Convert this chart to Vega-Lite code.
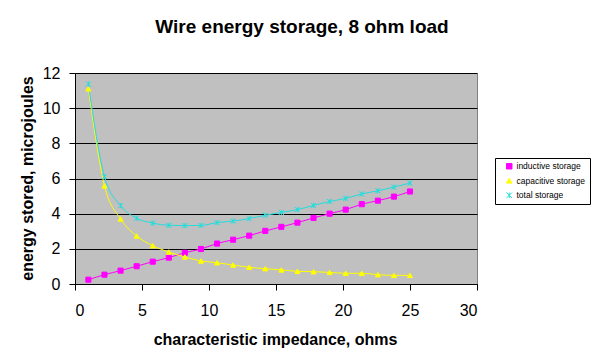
{
  "$schema": "https://vega.github.io/schema/vega-lite/v6.json",
  "width": 402,
  "height": 211,
  "autosize": {"type": "none"},
  "padding": {"left": 75, "top": 73, "right": 123, "bottom": 79},
  "background": "white",
  "title": {
    "text": "Wire energy storage, 8 ohm load",
    "frame": "group",
    "anchor": "middle",
    "align": "center",
    "dx": 26,
    "offset": 28,
    "font": "Liberation Sans",
    "fontSize": 19,
    "fontWeight": "bold",
    "color": "black"
  },
  "config": {
    "view": {"fill": "#C0C0C0", "stroke": "#808080", "strokeWidth": 1},
    "axis": {
      "labelFont": "Liberation Sans",
      "labelFontSize": 16,
      "labelColor": "black",
      "titleFont": "Liberation Sans",
      "titleFontSize": 16,
      "titleFontWeight": "bold",
      "titleColor": "black",
      "domainColor": "black",
      "tickColor": "black",
      "tickSize": 6,
      "domainWidth": 1,
      "tickWidth": 1
    },
    "legend": {
      "orient": "none",
      "legendX": 420,
      "legendY": 85,
      "strokeColor": "black",
      "fillColor": "white",
      "padding": 4,
      "labelFont": "Liberation Sans",
      "labelFontSize": 8.5,
      "labelColor": "black",
      "labelOffset": 3,
      "symbolOffset": 6,
      "rowPadding": 4.5,
      "symbolSize": 30,
      "symbolOpacity": 1,
      "symbolStrokeWidth": 1
    }
  },
  "data": {
    "values": [
      {"z": 1.0, "series": "inductive storage", "e": 0.245},
      {"z": 2.2, "series": "inductive storage", "e": 0.53},
      {"z": 3.4, "series": "inductive storage", "e": 0.76},
      {"z": 4.6, "series": "inductive storage", "e": 1.01},
      {"z": 5.8, "series": "inductive storage", "e": 1.27},
      {"z": 7.0, "series": "inductive storage", "e": 1.50},
      {"z": 8.2, "series": "inductive storage", "e": 1.78},
      {"z": 9.4, "series": "inductive storage", "e": 1.99},
      {"z": 10.6, "series": "inductive storage", "e": 2.30},
      {"z": 11.8, "series": "inductive storage", "e": 2.52},
      {"z": 13.0, "series": "inductive storage", "e": 2.75},
      {"z": 14.2, "series": "inductive storage", "e": 3.02},
      {"z": 15.4, "series": "inductive storage", "e": 3.25},
      {"z": 16.6, "series": "inductive storage", "e": 3.49},
      {"z": 17.8, "series": "inductive storage", "e": 3.76},
      {"z": 19.0, "series": "inductive storage", "e": 4.00},
      {"z": 20.2, "series": "inductive storage", "e": 4.23},
      {"z": 21.4, "series": "inductive storage", "e": 4.54},
      {"z": 22.6, "series": "inductive storage", "e": 4.74},
      {"z": 23.8, "series": "inductive storage", "e": 4.97},
      {"z": 25.0, "series": "inductive storage", "e": 5.26},
      {"z": 1.0, "series": "capacitive storage", "e": 11.1},
      {"z": 2.2, "series": "capacitive storage", "e": 5.58},
      {"z": 3.4, "series": "capacitive storage", "e": 3.70},
      {"z": 4.6, "series": "capacitive storage", "e": 2.73},
      {"z": 5.8, "series": "capacitive storage", "e": 2.18},
      {"z": 7.0, "series": "capacitive storage", "e": 1.82},
      {"z": 8.2, "series": "capacitive storage", "e": 1.54},
      {"z": 9.4, "series": "capacitive storage", "e": 1.31},
      {"z": 10.6, "series": "capacitive storage", "e": 1.21},
      {"z": 11.8, "series": "capacitive storage", "e": 1.08},
      {"z": 13.0, "series": "capacitive storage", "e": 0.95},
      {"z": 14.2, "series": "capacitive storage", "e": 0.87},
      {"z": 15.4, "series": "capacitive storage", "e": 0.80},
      {"z": 16.6, "series": "capacitive storage", "e": 0.72},
      {"z": 17.8, "series": "capacitive storage", "e": 0.70},
      {"z": 19.0, "series": "capacitive storage", "e": 0.66},
      {"z": 20.2, "series": "capacitive storage", "e": 0.61},
      {"z": 21.4, "series": "capacitive storage", "e": 0.61},
      {"z": 22.6, "series": "capacitive storage", "e": 0.53},
      {"z": 23.8, "series": "capacitive storage", "e": 0.49},
      {"z": 25.0, "series": "capacitive storage", "e": 0.49},
      {"z": 1.0, "series": "total storage", "e": 11.37},
      {"z": 2.2, "series": "total storage", "e": 6.11},
      {"z": 3.4, "series": "total storage", "e": 4.46},
      {"z": 4.6, "series": "total storage", "e": 3.74},
      {"z": 5.8, "series": "total storage", "e": 3.46},
      {"z": 7.0, "series": "total storage", "e": 3.34},
      {"z": 8.2, "series": "total storage", "e": 3.32},
      {"z": 9.4, "series": "total storage", "e": 3.33},
      {"z": 10.6, "series": "total storage", "e": 3.49},
      {"z": 11.8, "series": "total storage", "e": 3.58},
      {"z": 13.0, "series": "total storage", "e": 3.72},
      {"z": 14.2, "series": "total storage", "e": 3.91},
      {"z": 15.4, "series": "total storage", "e": 4.07},
      {"z": 16.6, "series": "total storage", "e": 4.23},
      {"z": 17.8, "series": "total storage", "e": 4.47},
      {"z": 19.0, "series": "total storage", "e": 4.69},
      {"z": 20.2, "series": "total storage", "e": 4.87},
      {"z": 21.4, "series": "total storage", "e": 5.12},
      {"z": 22.6, "series": "total storage", "e": 5.30},
      {"z": 23.8, "series": "total storage", "e": 5.51},
      {"z": 25.0, "series": "total storage", "e": 5.74}
    ]
  },
  "encoding": {
    "x": {
      "field": "z",
      "type": "quantitative",
      "scale": {"domain": [0, 30], "nice": false},
      "axis": {
        "title": "characteristic impedance, ohms",
        "values": [0, 5, 10, 15, 20, 25, 30],
        "grid": false,
        "labelPadding": 12,
        "titleBaseline": "alphabetic",
        "titleY": 60,
        "titleX": 200
      }
    },
    "y": {
      "field": "e",
      "type": "quantitative",
      "scale": {"domain": [0, 12], "nice": false},
      "axis": {
        "title": "energy stored, microjoules",
        "values": [0, 2, 4, 6, 8, 10, 12],
        "grid": true,
        "gridColor": "black",
        "gridWidth": 1,
        "gridOpacity": 1,
        "labelPadding": 9,
        "titleBaseline": "alphabetic",
        "titleX": -43,
        "titleY": 105
      }
    },
    "stroke": {
      "field": "series",
      "type": "nominal",
      "title": null,
      "scale": {
        "domain": ["inductive storage", "capacitive storage", "total storage"],
        "range": ["#FF00FF", "#FFFF00", "#22DDDD"]
      }
    }
  },
  "layer": [
    {
      "mark": {"type": "line", "strokeWidth": 1, "interpolate": "monotone"}
    },
    {
      "mark": {"type": "point", "filled": true, "size": 26, "opacity": 1, "strokeWidth": 1},
      "encoding": {
        "fill": {
          "field": "series",
          "type": "nominal",
          "title": null,
          "scale": {
            "domain": ["inductive storage", "capacitive storage", "total storage"],
            "range": ["#FF00FF", "#FFFF00", "#22DDDD"]
          }
        },
        "shape": {
          "field": "series",
          "type": "nominal",
          "title": null,
          "scale": {
            "domain": ["inductive storage", "capacitive storage", "total storage"],
            "range": ["square", "triangle-up", "M-1,-1L1,1M-1,1L1,-1M0,-1L0,1"]
          }
        }
      }
    }
  ]
}
